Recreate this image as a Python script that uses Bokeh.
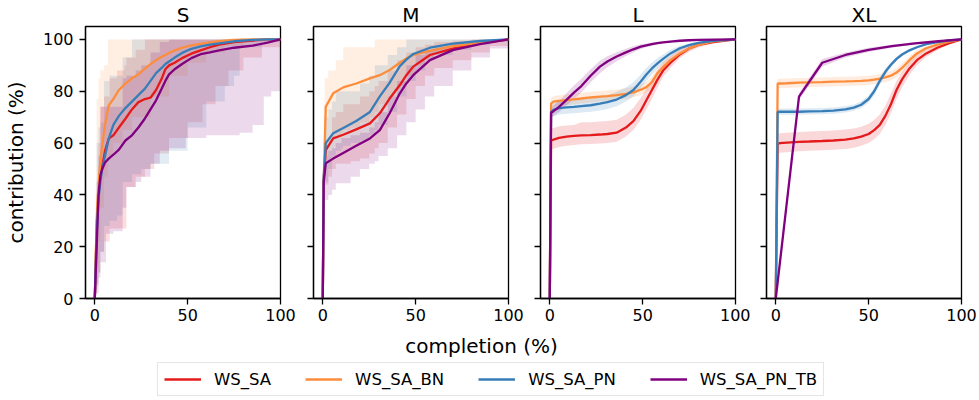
from bokeh.plotting import figure
from bokeh.models import Range1d, FixedTicker, Legend, LegendItem
from bokeh.layouts import column, row
from bokeh.core.properties import value
from bokeh.embed import file_html
from bokeh.resources import INLINE

PANELS = ["S", "M", "L", "XL"]
SERIES = ["WS_SA", "WS_SA_BN", "WS_SA_PN", "WS_SA_PN_TB"]
COLORS = ["#e41a1c", "#fd8d3c", "#377eb8", "#800080"]
X_TICKS = [0, 50, 100]
Y_TICKS = [0, 20, 40, 60, 80, 100]
X_LABEL = "completion (%)"
Y_LABEL = "contribution (%)"

# ---------------- S ----------------
S_X = [0, 1, 2, 3, 4, 5.5, 7.5, 10, 13, 16.5, 20, 23.5, 27, 30, 33, 36, 38, 40, 43, 47, 52, 57, 62, 67, 75, 85, 93, 100]
S_WS_SA = [0, 28, 41, 47, 51, 57, 61.7, 63, 66, 69.4, 73, 75.8, 77, 77.5, 80.5, 84.8, 88.5, 90, 91, 92.8, 94.5, 95.8, 97, 98, 99, 99.6, 100, 100]
S_WS_SA_BN = [0, 30, 44, 53, 59, 67, 74.5, 77, 80.5, 83, 85, 86.5, 88.7, 90.5, 92, 93.3, 94, 94.8, 95.8, 96.8, 97.7, 98.3, 98.9, 99.3, 99.8, 100, 100, 100]
S_WS_SA_PN = [0, 25, 38.5, 45, 50, 55, 61.7, 67, 70.5, 73.5, 76, 78.5, 81, 84, 87, 89, 90.5, 91.5, 93, 94.8, 96.4, 97.3, 98, 98.5, 99.3, 99.8, 100, 100]
S_WS_SA_PN_TB = [0, 20, 40, 47.5, 50, 52.5, 54, 55.5, 57.5, 61, 63, 66, 69.5, 73, 76.5, 81, 84, 86.5, 88.5, 90.5, 92.8, 94.3, 95, 95.8, 96.8, 97.6, 98.8, 100]

S_BX_WS_SA = [0, 0.5, 1, 2, 3, 5, 8, 12, 16, 17, 22, 27, 32, 40, 50, 58, 65, 72, 80, 90, 100]
S_LO_WS_SA = [0, 2, 5, 10, 18, 22, 27, 27, 27, 43, 47, 50, 56, 62, 68, 75, 82, 88, 93, 97, 100]
S_HI_WS_SA = [10, 30, 45, 60, 74, 78, 85, 88, 90, 93, 96, 100, 100, 100, 100, 100, 100, 100, 100, 100, 100]
S_BX_WS_SA_BN = [0, 0.5, 1, 2, 3, 5, 7, 10, 15, 20, 30, 40, 50, 60, 70, 80, 90, 100]
S_LO_WS_SA_BN = [0, 5, 12, 22, 35, 47, 55, 60, 65, 70, 78, 86, 91, 95, 97.5, 99, 99.5, 100]
S_HI_WS_SA_BN = [10, 45, 77, 85, 88, 90, 100, 100, 100, 100, 100, 100, 100, 100, 100, 100, 100, 100]
S_BX_WS_SA_PN = [0, 0.5, 1, 2, 3, 5, 8, 12, 15, 20, 25, 30, 40, 50, 60, 70, 75, 78, 90, 100]
S_LO_WS_SA_PN = [0, 3, 6, 10, 18, 28, 30, 32, 45, 48, 50, 52, 57, 66, 76, 82, 86, 97, 99, 100]
S_HI_WS_SA_PN = [10, 35, 60, 66, 68, 84, 86, 86, 93, 100, 100, 100, 100, 100, 100, 100, 100, 100, 100, 100]
S_BX_WS_SA_PN_TB = [0, 0.5, 1, 2, 3, 6, 10, 15, 17, 22, 25, 30, 35, 40, 49, 60, 78, 85, 91, 95, 100]
S_LO_WS_SA_PN_TB = [0, 1, 2, 8, 14, 25, 26, 35, 43, 45, 47, 52, 57, 58, 62, 63, 64, 67, 78, 80, 97]
S_HI_WS_SA_PN_TB = [5, 20, 40, 55, 74, 74, 74, 85, 86, 88, 90, 95, 99, 100, 100, 100, 100, 100, 100, 100, 100]

# ---------------- M ----------------
M_X = [0, 0.5, 1.6, 5.6, 11, 18, 25.4, 30.7, 36, 41.5, 45, 48.7, 57.7, 70, 84.7, 100]
M_WS_SA = [0, 46, 57.3, 61.8, 63.2, 65.3, 67.6, 71.5, 77.2, 82.4, 86.2, 89.5, 94, 96.5, 98.5, 100]
M_WS_SA_BN = [0, 45, 74, 79.2, 81.5, 83, 85, 86.2, 88.2, 91, 92.7, 94, 95.6, 97.4, 98.7, 100]
M_WS_SA_PN = [0, 47, 60, 63.8, 65.8, 68.5, 72, 78, 83.3, 89.7, 92.2, 94.4, 96.8, 98.4, 99.4, 100]
M_WS_SA_PN_TB = [0, 45, 52.2, 54, 56.2, 59, 61.8, 65, 71.5, 79.2, 83, 86.2, 92, 95.9, 98.2, 100]

M_BX = [0, 0.5, 1, 3, 5, 7, 10, 11, 15, 20, 25, 28, 30, 35, 40, 45, 50, 55, 60, 70, 80, 90, 100]
M_LO_WS_SA = [0, 40, 44, 47, 50, 52, 52, 52, 53, 54, 56, 58, 60, 66, 71, 77, 82, 86, 89, 92, 95, 97.5, 100]
M_HI_WS_SA = [15, 55, 60, 62, 70, 72, 72, 75, 75, 78, 80, 82, 84, 88, 92, 95, 97, 98, 99, 99.5, 100, 100, 100]
M_LO_WS_SA_BN = [0, 45, 55, 60, 62, 63, 64, 65, 66, 68, 70, 72, 75, 78, 82, 86, 90, 93, 95, 97, 99, 99.5, 100]
M_HI_WS_SA_BN = [20, 75, 85, 88, 88, 92, 92, 97, 97, 97, 97, 100, 100, 100, 100, 100, 100, 100, 100, 100, 100, 100, 100]
M_LO_WS_SA_PN = [0, 42, 45, 50, 55, 57, 58, 59, 60, 61, 63, 65, 67, 72, 78, 84, 88, 92, 94, 96, 98, 99, 100]
M_HI_WS_SA_PN = [15, 60, 70, 73, 76, 80, 80, 80, 80, 83, 86, 90, 90, 94, 97, 100, 100, 100, 100, 100, 100, 100, 100]
M_LO_WS_SA_PN_TB = [0, 35, 38, 40, 42, 44.5, 44.5, 44.5, 47, 50, 52, 53, 55, 58, 63, 68, 73, 78, 82, 88, 93, 96.5, 100]
M_HI_WS_SA_PN_TB = [10, 50, 55, 57, 58, 60, 62, 62, 63, 64, 66, 68, 72, 78, 84, 90, 94, 96, 97, 98.5, 99.3, 99.7, 100]

# ---------------- L ----------------
L_X = [0, 0.7, 2, 5, 9, 13, 17, 22, 27, 31, 36, 41, 45, 49, 52, 55, 58, 61, 65, 70, 75, 80, 88, 100]
L_WS_SA = [0, 61, 61.3, 62, 62.5, 62.8, 63, 63.1, 63.3, 63.5, 64, 66, 68.5, 72.5, 76.5, 80.5, 84.5, 88, 91, 94.2, 96.5, 97.9, 99, 100]
L_WS_SA_BN = [0, 75.3, 76, 76.3, 76.6, 76.9, 77.2, 77.6, 77.9, 78.1, 78.5, 79, 79.6, 80.6, 81.6, 83.5, 87, 89.3, 92, 94.6, 96.5, 97.9, 99.3, 100]
L_WS_SA_PN = [0, 72, 72.8, 73.5, 73.8, 74, 74.3, 74.6, 75.2, 75.8, 76.8, 78.5, 80.5, 83.8, 86.5, 88.8, 90.8, 92.5, 94.6, 96.6, 97.8, 98.7, 99.5, 100]
L_WS_SA_PN_TB = [0, 71.7, 72.3, 74, 76.7, 79.5, 82, 86, 89.5, 91.5, 93.4, 95, 96.2, 97.2, 97.7, 98.2, 98.6, 98.9, 99.2, 99.5, 99.7, 99.8, 99.9, 100]

L_LO_WS_SA = [0, 57.5, 57.8, 58.5, 59, 59.3, 59.5, 59.6, 59.8, 60, 60.5, 62.5, 65, 69, 73, 77, 81.5, 85.5, 89, 92.7, 95.3, 96.9, 98.4, 100]
L_HI_WS_SA = [0, 65.5, 65.8, 66.5, 66.8, 67, 68, 68, 68.3, 68.5, 69, 71, 73.5, 77.5, 81, 84.5, 88, 91, 93.5, 96.2, 98, 98.9, 99.6, 100]
L_LO_WS_SA_BN = [0, 73.3, 74, 74.4, 74.7, 75, 75.3, 75.7, 76, 76.2, 76.6, 77.1, 77.7, 78.6, 79.6, 81.4, 84.8, 87.3, 90.3, 93.3, 95.6, 97.3, 99, 100]
L_HI_WS_SA_BN = [0, 77.5, 78.2, 78.5, 78.8, 79.1, 79.4, 79.8, 80.1, 80.3, 80.7, 81.2, 81.8, 82.7, 83.7, 85.7, 89, 91.2, 93.6, 95.8, 97.4, 98.5, 99.6, 100]
L_LO_WS_SA_PN = [0, 69.8, 70.3, 71, 71.3, 71.5, 71.8, 72.1, 72.6, 73.2, 74.2, 76, 78, 81.3, 84, 86.5, 88.8, 90.8, 93.3, 95.7, 97.2, 98.3, 99.3, 100]
L_HI_WS_SA_PN = [0, 74.2, 75.3, 76, 76.3, 76.5, 76.8, 77.1, 77.8, 78.5, 79.8, 81.5, 83.5, 86.5, 89, 91, 92.8, 94.2, 96, 97.5, 98.4, 99.1, 99.7, 100]
L_LO_WS_SA_PN_TB = [0, 70, 70.5, 72, 74.5, 77, 79.5, 83.5, 87, 89.3, 91.6, 93.6, 95, 96.3, 97, 97.6, 98.1, 98.5, 98.9, 99.3, 99.6, 99.7, 99.85, 100]
L_HI_WS_SA_PN_TB = [0, 73.4, 74.3, 76.3, 79.2, 82.2, 84.8, 88.5, 91.8, 93.5, 95.1, 96.4, 97.4, 98.1, 98.4, 98.8, 99.1, 99.3, 99.5, 99.7, 99.8, 99.9, 99.95, 100]

# ---------------- XL ----------------
XL_X = [0, 1, 2, 6, 12.5, 18, 25, 31, 37.5, 42, 46, 50, 53, 56, 59, 62, 65, 68, 72, 76, 81, 87, 93, 100]
XL_WS_SA = [0, 59.5, 60, 60.2, 60.5, 60.6, 60.8, 61, 61.3, 61.8, 62.5, 63.5, 65, 67, 70.5, 75, 80.5, 84.6, 88.8, 92, 94.6, 96.8, 98.5, 100]
XL_WS_SA_BN = [0, 83, 83, 83.1, 83.3, 83.4, 83.5, 83.7, 83.8, 83.9, 84, 84.2, 84.5, 84.9, 85.4, 86, 87.2, 89, 92, 94.6, 96.6, 98, 99.1, 100]
XL_WS_SA_PN = [0, 72, 72.1, 72.1, 72.1, 72.2, 72.3, 72.5, 73, 73.7, 74.8, 77, 80, 84, 87.5, 90.2, 92.5, 94.2, 95.8, 97, 98.2, 99, 99.6, 100]
XL_TB_X = [0, 12.5, 25, 37.5, 50, 62.5, 75, 87.5, 100]
XL_WS_SA_PN_TB = [0, 77.9, 91, 94, 96, 97.4, 98.5, 99.3, 100]

XL_LO_WS_SA = [0, 56, 56.3, 56.5, 56.8, 57, 57.2, 57.4, 57.7, 58.2, 59, 60, 61.5, 63.5, 67, 71.5, 77, 81.5, 86.3, 90, 93.2, 95.8, 98, 100]
XL_HI_WS_SA = [0, 63.5, 63.8, 64, 64.3, 64.5, 64.7, 64.9, 65.2, 65.6, 66.3, 67.5, 69, 71, 74.5, 79, 84, 87.5, 91.2, 94, 96, 97.8, 99, 100]
XL_LO_WS_SA_BN = [0, 81.2, 81.2, 81.3, 81.5, 81.6, 81.7, 81.9, 82, 82.1, 82.2, 82.4, 82.7, 83.1, 83.6, 84.2, 85.4, 87.2, 90.3, 93.2, 95.6, 97.3, 98.7, 100]
XL_HI_WS_SA_BN = [0, 84.8, 84.8, 84.9, 85.1, 85.2, 85.3, 85.5, 85.6, 85.7, 85.8, 86, 86.3, 86.7, 87.2, 87.8, 89, 90.8, 93.6, 95.9, 97.5, 98.6, 99.5, 100]
XL_LO_WS_SA_PN = [0, 70.8, 70.9, 70.9, 70.9, 71, 71.1, 71.3, 71.8, 72.5, 73.5, 75.6, 78.5, 82.5, 86.2, 89.2, 91.7, 93.5, 95.2, 96.5, 97.8, 98.7, 99.4, 100]
XL_HI_WS_SA_PN = [0, 73.2, 73.3, 73.3, 73.3, 73.4, 73.5, 73.7, 74.2, 74.9, 76.1, 78.4, 81.5, 85.5, 88.8, 91.2, 93.3, 94.9, 96.4, 97.5, 98.6, 99.3, 99.8, 100]
XL_LO_WS_SA_PN_TB = [0, 76.5, 89.5, 93, 95.2, 96.8, 98.1, 99.1, 100]
XL_HI_WS_SA_PN_TB = [0, 79.3, 92.5, 95, 96.8, 98, 98.9, 99.5, 100]

# ---------------- assemble ----------------
LINES = {
    "S": [(S_X, S_WS_SA), (S_X, S_WS_SA_BN), (S_X, S_WS_SA_PN), (S_X, S_WS_SA_PN_TB)],
    "M": [(M_X, M_WS_SA), (M_X, M_WS_SA_BN), (M_X, M_WS_SA_PN), (M_X, M_WS_SA_PN_TB)],
    "L": [(L_X, L_WS_SA), (L_X, L_WS_SA_BN), (L_X, L_WS_SA_PN), (L_X, L_WS_SA_PN_TB)],
    "XL": [(XL_X, XL_WS_SA), (XL_X, XL_WS_SA_BN), (XL_X, XL_WS_SA_PN), (XL_TB_X, XL_WS_SA_PN_TB)],
}
BANDS = {
    "S": [(S_BX_WS_SA, S_LO_WS_SA, S_HI_WS_SA), (S_BX_WS_SA_BN, S_LO_WS_SA_BN, S_HI_WS_SA_BN),
          (S_BX_WS_SA_PN, S_LO_WS_SA_PN, S_HI_WS_SA_PN), (S_BX_WS_SA_PN_TB, S_LO_WS_SA_PN_TB, S_HI_WS_SA_PN_TB)],
    "M": [(M_BX, M_LO_WS_SA, M_HI_WS_SA), (M_BX, M_LO_WS_SA_BN, M_HI_WS_SA_BN),
          (M_BX, M_LO_WS_SA_PN, M_HI_WS_SA_PN), (M_BX, M_LO_WS_SA_PN_TB, M_HI_WS_SA_PN_TB)],
    "L": [(L_X, L_LO_WS_SA, L_HI_WS_SA), (L_X, L_LO_WS_SA_BN, L_HI_WS_SA_BN),
          (L_X, L_LO_WS_SA_PN, L_HI_WS_SA_PN), (L_X, L_LO_WS_SA_PN_TB, L_HI_WS_SA_PN_TB)],
    "XL": [(XL_X, XL_LO_WS_SA, XL_HI_WS_SA), (XL_X, XL_LO_WS_SA_BN, XL_HI_WS_SA_BN),
           (XL_X, XL_LO_WS_SA_PN, XL_HI_WS_SA_PN), (XL_TB_X, XL_LO_WS_SA_PN_TB, XL_HI_WS_SA_PN_TB)],
}
STEP_BANDS = {"S": True, "M": True, "L": False, "XL": False}

FONT = "DejaVu Sans"
BORDERS = [(76, 16), (17, 16), (16, 15), (16, 16)]
FRAME_W, FRAME_H = 195, 272

figs = []
for i, name in enumerate(PANELS):
    left, right = BORDERS[i]
    p = figure(frame_width=FRAME_W, frame_height=FRAME_H,
               x_range=Range1d(-5, 100), y_range=Range1d(0, 105),
               toolbar_location=None, output_backend="svg",
               min_border_left=left, min_border_right=right,
               min_border_top=20, min_border_bottom=28)
    p.title.text = name
    p.title.align = "center"
    p.title.text_font = FONT
    p.title.text_font_size = "20px"
    p.title.text_font_style = "normal"
    p.title.text_color = "black"
    p.title.standoff = 0
    p.title.offset = 0

    for (bx, lo, hi), col in zip(BANDS[name], COLORS):
        if STEP_BANDS[name]:
            p.varea_step(x=bx, y1=lo, y2=hi, step_mode="after",
                         fill_color=col, fill_alpha=0.15)
        else:
            p.varea(x=bx, y1=lo, y2=hi, fill_color=col, fill_alpha=0.17)
    for (lx, ly), col in zip(LINES[name], COLORS):
        p.line(x=lx, y=ly, line_color=col, line_width=2.3)

    p.xaxis.ticker = FixedTicker(ticks=X_TICKS)
    p.yaxis.ticker = FixedTicker(ticks=Y_TICKS)
    for ax in [p.xaxis[0], p.yaxis[0]]:
        ax.major_tick_in = 0
        ax.major_tick_out = 6
        ax.minor_tick_in = 0
        ax.minor_tick_out = 0
        ax.major_tick_line_width = 1.3
        ax.axis_line_width = 1.3
        ax.axis_line_color = "black"
        ax.major_tick_line_color = "black"
        ax.major_label_text_font = FONT
        ax.major_label_text_font_size = "16px"
        ax.major_label_text_color = "black"
        ax.major_label_standoff = 4
    if i == 0:
        p.yaxis.axis_label = Y_LABEL
        p.yaxis.axis_label_text_font = FONT
        p.yaxis.axis_label_text_font_size = "20px"
        p.yaxis.axis_label_text_font_style = "normal"
        p.yaxis.axis_label_text_color = "black"
        p.yaxis.axis_label_standoff = 12
        p.yaxis.major_label_standoff = 6
    else:
        p.yaxis.major_label_text_font_size = "1px"
        p.yaxis.major_label_text_color = None
    p.xgrid.visible = False
    p.ygrid.visible = False
    p.outline_line_color = "black"
    p.outline_line_width = 1.3
    p.outline_line_alpha = 1
    figs.append(p)

BOT_W, BOT_H = 962, 70
b = figure(width=BOT_W, height=BOT_H, x_range=Range1d(0, BOT_W), y_range=Range1d(0, BOT_H),
           toolbar_location=None, output_backend="svg", min_border=0)
b.axis.visible = False
b.grid.visible = False
b.outline_line_color = None
b.text(x=[481], y=[51], text=[X_LABEL], text_align="center", text_baseline="middle",
       text_font=value(FONT), text_font_size=value("20px"), text_color="black")
items = []
for lab, col in zip(SERIES, COLORS):
    # legend-only renderer placed outside the visible range
    r = b.line(x=[-50, -40], y=[-50, -50], line_color=col, line_width=2.3)
    items.append(LegendItem(label=lab, renderers=[r]))
leg = Legend(items=items, orientation="horizontal", location=(157, 0),
             glyph_width=37, glyph_height=20, label_standoff=13, spacing=34,
             padding=6, margin=0, label_height=20,
             label_text_font=FONT, label_text_font_size="16.5px", label_text_color="black",
             border_line_color="#cccccc", border_line_width=1, background_fill_alpha=1)
b.add_layout(leg)

layout = column(row(*figs), b)
open("out.html", "w").write(file_html(layout, INLINE))
